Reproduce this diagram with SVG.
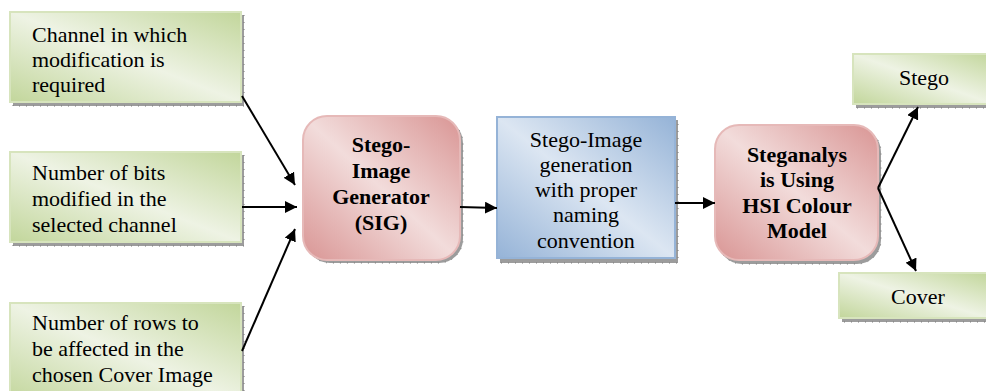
<svg xmlns="http://www.w3.org/2000/svg" width="986" height="391" viewBox="0 0 986 391" font-family="Liberation Serif, Times New Roman, serif">
<defs>
<linearGradient id="gGreen" x1="1" y1="0" x2="0" y2="1">
<stop offset="0" stop-color="#c2d69b"/>
<stop offset="0.5" stop-color="#eef3e4"/>
<stop offset="1" stop-color="#c2d69b"/>
</linearGradient>
<linearGradient id="gPink" x1="1" y1="0" x2="0" y2="1">
<stop offset="0" stop-color="#d99594"/>
<stop offset="0.5" stop-color="#f2dcdb"/>
<stop offset="1" stop-color="#d99594"/>
</linearGradient>
<linearGradient id="gBlue" x1="1" y1="0" x2="0" y2="1">
<stop offset="0" stop-color="#95b3d7"/>
<stop offset="0.5" stop-color="#dce6f2"/>
<stop offset="1" stop-color="#95b3d7"/>
</linearGradient>
<marker id="arr" viewBox="0 0 10 10" refX="10" refY="5" markerWidth="12" markerHeight="12" markerUnits="userSpaceOnUse" orient="auto">
<path d="M0,0 L10,5 L0,10 Z" fill="#000"/>
</marker>
</defs>
<style>
.shadow{fill:#9c9c9c;stroke:#7a7a7a;stroke-width:1;stroke-dasharray:1 6;}
.green{fill:url(#gGreen);stroke:#d7e4bd;stroke-width:2;}
.pink{fill:url(#gPink);stroke:#e6b9b8;stroke-width:2;}
.blue{fill:url(#gBlue);stroke:#95b3d7;stroke-width:2;}
.conn line{stroke:#000;stroke-width:2;marker-end:url(#arr);}
</style>
<rect width="986" height="391" fill="#fff"/>

<g id="in1">
<rect class="shadow" x="13" y="15" width="231" height="91"/>
<rect class="green" x="10" y="12" width="231" height="90"/>
<text x="32" y="42" style="font-family:'Liberation Serif',serif;font-size:22px">Channel in which</text>
<text x="32" y="67" style="font-family:'Liberation Serif',serif;font-size:22px">modification is</text>
<text x="32" y="92" style="font-family:'Liberation Serif',serif;font-size:22px">required</text>
</g>

<g id="in2">
<rect class="shadow" x="13" y="155" width="231" height="91"/>
<rect class="green" x="10" y="152" width="231" height="90"/>
<text x="32" y="180" style="font-family:'Liberation Serif',serif;font-size:22px">Number of bits</text>
<text x="32" y="206" style="font-family:'Liberation Serif',serif;font-size:22px">modified in the</text>
<text x="32" y="232" style="font-family:'Liberation Serif',serif;font-size:22px">selected channel</text>
</g>

<g id="in3">
<rect class="shadow" x="13" y="306" width="231" height="100"/>
<rect class="green" x="10" y="303" width="231" height="100"/>
<text x="32" y="330" style="font-family:'Liberation Serif',serif;font-size:22px">Number of rows to</text>
<text x="32" y="356" style="font-family:'Liberation Serif',serif;font-size:22px">be affected in the</text>
<text x="32" y="382" style="font-family:'Liberation Serif',serif;font-size:22px">chosen Cover Image</text>
</g>

<g id="sig">
<rect class="shadow" x="306" y="119" width="157" height="144" rx="24"/>
<rect class="pink" x="303" y="116" width="157" height="144" rx="24"/>
<text x="381" y="152" text-anchor="middle" style="font-family:'Liberation Serif',serif;font-size:22px;font-weight:bold">Stego-</text>
<text x="381" y="178" text-anchor="middle" style="font-family:'Liberation Serif',serif;font-size:22px;font-weight:bold">Image</text>
<text x="381" y="204" text-anchor="middle" style="font-family:'Liberation Serif',serif;font-size:22px;font-weight:bold">Generator</text>
<text x="381" y="230" text-anchor="middle" style="font-family:'Liberation Serif',serif;font-size:22px;font-weight:bold">(SIG)</text>
</g>

<g id="naming">
<rect class="shadow" x="500" y="120" width="178" height="143"/>
<rect class="blue" x="497" y="117" width="178" height="141"/>
<text x="586" y="147" text-anchor="middle" style="font-family:'Liberation Serif',serif;font-size:22px">Stego-Image</text>
<text x="586" y="172" text-anchor="middle" style="font-family:'Liberation Serif',serif;font-size:22px">generation</text>
<text x="586" y="197" text-anchor="middle" style="font-family:'Liberation Serif',serif;font-size:22px">with proper</text>
<text x="586" y="222" text-anchor="middle" style="font-family:'Liberation Serif',serif;font-size:22px">naming</text>
<text x="586" y="248" text-anchor="middle" style="font-family:'Liberation Serif',serif;font-size:22px">convention</text>
</g>

<g id="hsi">
<rect class="shadow" x="718" y="128" width="163" height="136" rx="24"/>
<rect class="pink" x="715" y="125" width="163" height="135" rx="24"/>
<text x="797" y="162" text-anchor="middle" style="font-family:'Liberation Serif',serif;font-size:22px;font-weight:bold">Steganalys</text>
<text x="797" y="187" text-anchor="middle" style="font-family:'Liberation Serif',serif;font-size:22px;font-weight:bold">is Using</text>
<text x="797" y="213" text-anchor="middle" style="font-family:'Liberation Serif',serif;font-size:22px;font-weight:bold">HSI Colour</text>
<text x="797" y="238" text-anchor="middle" style="font-family:'Liberation Serif',serif;font-size:22px;font-weight:bold">Model</text>
</g>

<g id="stego">
<rect class="shadow" x="856" y="57" width="140" height="51"/>
<rect class="green" x="853" y="54" width="140" height="50"/>
<text x="924" y="85" text-anchor="middle" style="font-family:'Liberation Serif',serif;font-size:22px">Stego</text>
</g>

<g id="cover">
<rect class="shadow" x="842" y="276" width="150" height="46"/>
<rect class="green" x="839" y="273" width="150" height="45"/>
<text x="918" y="304" text-anchor="middle" style="font-family:'Liberation Serif',serif;font-size:22px">Cover</text>
</g>

<g id="connectors" class="conn">
<line x1="242" y1="96" x2="295" y2="185"/>
<line x1="242" y1="207" x2="297" y2="207"/>
<line x1="242" y1="351" x2="295" y2="229"/>
<line x1="460" y1="207" x2="497" y2="208"/>
<line x1="675" y1="203" x2="715" y2="203"/>
<line x1="878" y1="188" x2="918" y2="107"/>
<line x1="878" y1="188" x2="916" y2="271"/>
</g>
</svg>
